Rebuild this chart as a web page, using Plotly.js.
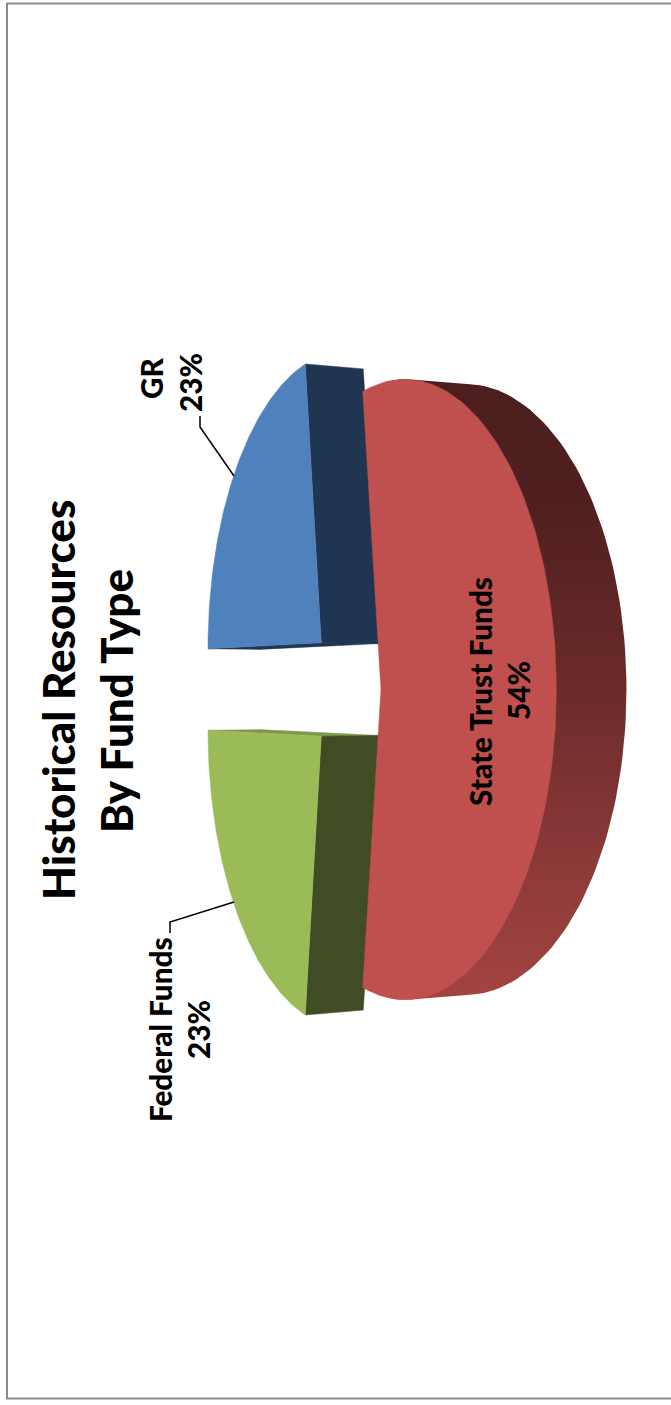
<!DOCTYPE html>
<html>
<head>
<meta charset="utf-8">
<script src="https://cdn.plot.ly/plotly-3.0.1.min.js"></script>
<style>html,body{margin:0;padding:0;background:#fff}#chart{width:671px;height:1405px}</style>
</head>
<body>
<div id="chart"></div>
<script>
// Fund shares, in percent
const fundNames = ["GR", "State Trust Funds", "Federal Funds"];
const fundShares = [23, 54, 23];
const titleLines = ["Historical Resources", "By Fund Type"];

// Face colours per fund
const topColors = ["#4f81bd", "#c0504d", "#9bbb59"];
const sideColors = ["#1f3552", "#4c1f1e", "#404c23"];
const cutColors = ["#1f3552", "#4c1f1e", "#7d9a47"];

// Perspective camera for the page-rotated pie, in page pixels
const cam = {
  vanish: -566,      // page x where depth lines meet
  midY: 689.5,       // page y of the pie's axis
  wCentre: 0.0010966,// inverse depth at the pie centre
  wPerRadius: 0.000165,
  lateral: 0.3235,
  dropFront: 1.0625, // how far the lower face sits from the upper one
  dropRear: 1.0665,
  dropNarrow: 0.985,
  explode: 0.246
};

// drop is 0 for the upper face, or the lower face's depth factor
function project(X, Z, drop) {
  const w = cam.wCentre - Z * cam.wPerRadius;
  const d = (1 / w) * (drop || 1);
  const off = cam.lateral * X / w * (drop ? cam.dropNarrow : 1);
  return [d + cam.vanish, cam.midY - off];
}

// Angles are measured from the front of the pie; State Trust Funds is centred there
const total = fundShares.reduce((a, b) => a + b, 0);
const sweep = fundShares.map(s => s / total * 2 * Math.PI);
const spans = [
  [sweep[1] / 2, sweep[1] / 2 + sweep[0]],
  [-sweep[1] / 2, sweep[1] / 2],
  [-sweep[1] / 2 - sweep[2], -sweep[1] / 2]
];

function slice(i) {
  const [a, b] = spans[i];
  const mid = (a + b) / 2;
  const apexX = cam.explode * Math.sin(mid);
  const apexZ = cam.explode * Math.cos(mid);
  const rim = (t, drop) => project(apexX + Math.sin(t), apexZ + Math.cos(t), drop);
  const arc = (drop, shrink) => {
    const from = a * (shrink || 1), to = b * (shrink || 1);
    const pts = [];
    for (let k = 0; k <= 120; k++) pts.push(rim(from + (to - from) * k / 120, drop));
    return pts;
  };
  return { arc, rim, a, b, apex: drop => project(apexX, apexZ, drop) };
}

function hull(points) {
  const p = points.slice().sort((m, n) => m[0] - n[0] || m[1] - n[1]);
  const cross = (o, m, n) => (m[0] - o[0]) * (n[1] - o[1]) - (m[1] - o[1]) * (n[0] - o[0]);
  const half = list => {
    const out = [];
    for (const q of list) {
      while (out.length > 1 && cross(out[out.length - 2], out[out.length - 1], q) <= 0) out.pop();
      out.push(q);
    }
    out.pop();
    return out;
  };
  return half(p).concat(half(p.reverse()));
}

function poly(points, color, extra) {
  const xs = points.map(q => q[0]).concat(points[0][0]);
  const ys = points.map(q => q[1]).concat(points[0][1]);
  return Object.assign({
    type: "scatter", mode: "lines", x: xs, y: ys, fill: "toself",
    fillcolor: color, line: { width: 0.5, color: color },
    hoverinfo: "skip", showlegend: false
  }, extra || {});
}

const traces = [];

// The two rear wedges: cut face, inner wall, then the top
[0, 2].forEach(i => {
  const s = slice(i);
  const back = i === 0 ? s.b : s.a;
  const wall = i === 0 ? s.a : s.b;
  traces.push(poly([s.apex(0), s.rim(back, 0), s.rim(back, cam.dropRear), s.apex(cam.dropRear)], cutColors[i]));
  traces.push(poly([s.apex(0), s.rim(wall, 0), s.rim(wall, cam.dropRear), s.apex(cam.dropRear)], sideColors[i]));
  traces.push(poly([s.apex(0)].concat(s.arc(0)), topColors[i]));
});

// The front wedge: shaded rim (its inner chord stays under the top), then the top
const front = slice(1);
traces.push(poly(hull(front.arc(0, 0.9).concat(front.arc(cam.dropFront))), sideColors[1], {
  fillgradient: {
    type: "vertical", start: 380, stop: 1000,
    colorscale: [[0, "#4c1f1e"], [0.2, "#4f201f"], [0.5, "#6b2b2a"], [0.8, "#8e3b39"], [1, "#a34441"]]
  },
  line: { width: 0 }
}));
traces.push(poly([front.apex(0)].concat(front.arc(0)), topColors[1]));

// Leader lines from the rear wedges to their labels
const leaderGR = { x: [234, 200, 200], y: [476, 427, 416] };
const leaderFederal = { x: [234, 170, 170], y: [902, 922, 933] };
[leaderGR, leaderFederal].forEach(l => traces.push({
  type: "scatter", mode: "lines", x: l.x, y: l.y,
  line: { color: "#000", width: 1.5 }, hoverinfo: "skip", showlegend: false
}));

const FONT = "Lato, 'Open Sans', sans-serif";
function label(text, x, y, size) {
  return {
    text: text, x, y, xref: "x", yref: "y", textangle: -90,
    showarrow: false, xanchor: "center", yanchor: "middle",
    font: { family: FONT, size, color: "#000", weight: 900 }
  };
}

const annotations = [
  label(titleLines[0], 58, 700, 44),
  label(titleLines[1], 116, 701, 44),
  label(fundNames[0], 151, 378, 29.7),
  label(fundShares[0] + "%", 190, 383, 29.7),
  label(fundNames[1], 480, 692, 29.7),
  label(fundShares[1] + "%", 518, 691, 29.7),
  label(fundNames[2], 160, 1030, 29.7),
  label(fundShares[2] + "%", 198, 1030, 29.7)
];

const layout = {
  width: 671, height: 1405,
  margin: { l: 0, r: 0, t: 0, b: 0 },
  paper_bgcolor: "#fff", plot_bgcolor: "#fff",
  xaxis: { range: [0, 671], visible: false, fixedrange: true },
  yaxis: { range: [1405, 0], visible: false, fixedrange: true },
  showlegend: false,
  annotations,
  shapes: [{
    type: "rect", xref: "x", yref: "y", x0: 7, y0: 3.5, x1: 700, y1: 1398.5,
    line: { color: "#8a8a8a", width: 2 }, fillcolor: "rgba(0,0,0,0)", layer: "below"
  }]
};

Plotly.newPlot("chart", traces, layout, { staticPlot: true, displayModeBar: false });
</script>
</body>
</html>
